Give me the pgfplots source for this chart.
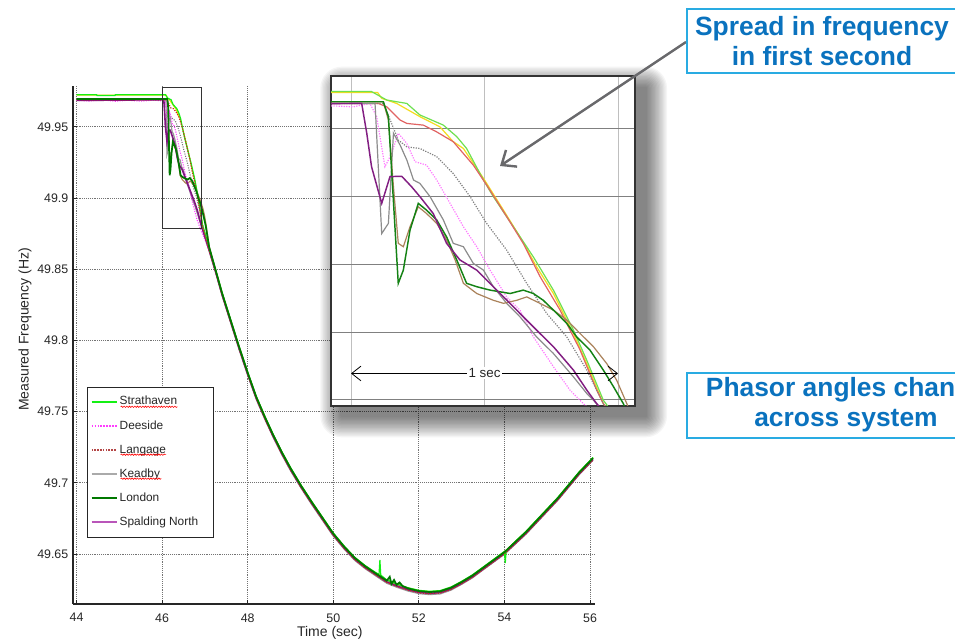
\documentclass[border=0pt]{standalone}
\usepackage{fontspec}
\setmainfont{Liberation Sans}
\usepackage{pgfplots}
\pgfplotsset{compat=1.18}
\usepackage{pgfplotstable}
\usetikzlibrary{arrows.meta,decorations.pathmorphing}

\definecolor{cStrath}{RGB}{20,240,20}
\definecolor{cYel}{RGB}{240,220,0}
\definecolor{cDee}{RGB}{255,60,255}
\definecolor{cLang}{RGB}{200,40,40}
\definecolor{cKead}{RGB}{150,150,150}
\definecolor{cGdot}{RGB}{120,120,120}
\definecolor{cLon}{RGB}{0,120,0}
\definecolor{cBrown}{RGB}{175,130,80}
\definecolor{cSpal}{RGB}{128,20,128}
\definecolor{cSpalL}{RGB}{185,85,185}
\definecolor{cKeadL}{RGB}{170,170,170}
\definecolor{cLangL}{RGB}{180,70,70}
\definecolor{iStrath}{RGB}{110,225,80}
\definecolor{iDee}{RGB}{255,120,255}
\definecolor{iLang}{RGB}{225,100,100}
\definecolor{iKead}{RGB}{140,140,140}
\definecolor{iSpal}{RGB}{130,30,130}
\definecolor{iLon}{RGB}{20,130,20}
\definecolor{iBrown}{RGB}{170,130,90}
\definecolor{iGdot}{RGB}{130,130,130}
\definecolor{iYel}{RGB}{245,220,30}
\definecolor{textblue}{RGB}{10,114,190}
\definecolor{boxcyan}{RGB}{41,171,226}
\definecolor{arrowgray}{RGB}{105,105,108}

% ---------------- data (time s, frequency Hz) ----------------
\pgfplotstableread{
t f
44.00 49.9725
44.47 49.9725
44.48 49.9719
44.90 49.9719
44.91 49.9725
46.077 49.9725
46.134 49.9700
46.209 49.9690
46.258 49.9656
46.346 49.9626
46.396 49.9592
46.433 49.9557
46.496 49.9464
46.533 49.9415
46.608 49.9326
46.683 49.9237
46.758 49.9139
46.833 49.9021
46.883 49.8932
46.945 49.8814
47.10 49.8650
47.25 49.8498
47.40 49.8338
47.60 49.8148
47.80 49.7958
48.00 49.7778
48.20 49.7608
48.40 49.7468
48.60 49.7338
48.80 49.7218
49.00 49.7108
49.25 49.6983
49.50 49.6868
49.75 49.6758
50.00 49.6648
50.25 49.6558
50.50 49.6478
50.75 49.6418
51.00 49.6368
51.07 49.6358
51.09 49.6458
51.11 49.6352
51.25 49.6318
51.50 49.6288
51.75 49.6263
52.00 49.6245
52.25 49.6238
52.50 49.6243
52.75 49.6268
53.00 49.6308
53.25 49.6353
53.50 49.6408
53.75 49.6463
54.00 49.6518
54.02 49.6437
54.04 49.6522
54.25 49.6588
54.50 49.6658
54.75 49.6738
55.00 49.6818
55.25 49.6898
55.50 49.6988
55.75 49.7078
56.07 49.7178
}\tStrath

\pgfplotstableread{
t f
44.00 49.9722
46.100 49.9722
46.115 49.9705
46.171 49.9690
46.258 49.9651
46.333 49.9621
46.383 49.9577
46.421 49.9557
46.496 49.9469
46.571 49.9375
46.633 49.9296
46.695 49.9208
46.758 49.9129
46.833 49.9011
46.883 49.8922
46.945 49.8804
47.10 49.8645
47.25 49.8495
47.40 49.8335
47.60 49.8145
47.80 49.7955
48.00 49.7775
48.20 49.7605
48.40 49.7465
48.60 49.7335
48.80 49.7215
49.00 49.7105
49.25 49.6980
49.50 49.6865
49.75 49.6755
50.00 49.6645
50.25 49.6555
50.50 49.6475
50.75 49.6415
51.00 49.6365
51.25 49.6318
51.50 49.6286
51.75 49.6262
52.00 49.6243
52.25 49.6236
52.50 49.6241
52.75 49.6266
53.00 49.6306
53.25 49.6351
53.50 49.6406
53.75 49.6461
54.00 49.6516
54.25 49.6586
54.50 49.6656
54.75 49.6736
55.00 49.6816
55.25 49.6896
55.50 49.6986
55.75 49.7076
56.07 49.7176
}\tYel

\pgfplotstableread{
t f
44.00 49.9685
44.30 49.9680
44.60 49.9688
44.90 49.9678
45.20 49.9686
45.50 49.9679
45.80 49.9687
46.009 49.9680
46.071 49.9690
46.096 49.9651
46.127 49.9503
46.152 49.9542
46.177 49.9602
46.209 49.9572
46.240 49.9518
46.283 49.9508
46.321 49.9464
46.371 49.9395
46.421 49.9326
46.471 49.9267
46.521 49.9198
46.583 49.9119
46.633 49.9080
46.683 49.9001
46.758 49.8913
46.820 49.8844
46.870 49.8804
47.10 49.8632
47.25 49.8484
47.40 49.8324
47.60 49.8134
47.80 49.7944
48.00 49.7764
48.20 49.7594
48.40 49.7454
48.60 49.7324
48.80 49.7204
49.00 49.7094
49.25 49.6970
49.50 49.6854
49.75 49.6746
50.00 49.6634
50.25 49.6545
50.50 49.6465
50.75 49.6404
51.00 49.6355
51.25 49.6305
51.50 49.6274
51.75 49.6250
52.00 49.6232
52.25 49.6225
52.50 49.6231
52.75 49.6255
53.00 49.6296
53.25 49.6340
53.50 49.6396
53.75 49.6450
54.00 49.6506
54.25 49.6576
54.50 49.6645
54.75 49.6726
55.00 49.6805
55.25 49.6886
55.50 49.6975
55.75 49.7066
56.07 49.7165
}\tDee

\pgfplotstableread{
t f
44.00 49.9690
46.102 49.9690
46.134 49.9680
46.184 49.9641
46.209 49.9631
46.271 49.9626
46.321 49.9606
46.383 49.9577
46.458 49.9508
46.508 49.9449
46.583 49.9356
46.645 49.9277
46.708 49.9179
46.783 49.9080
46.858 49.8962
46.920 49.8844
46.945 49.8804
47.10 49.8631
47.25 49.8481
47.40 49.8321
47.60 49.8131
47.80 49.7941
48.00 49.7761
48.20 49.7591
48.40 49.7451
48.60 49.7321
48.80 49.7201
49.00 49.7091
49.25 49.6966
49.50 49.6851
49.75 49.6741
50.00 49.6631
50.25 49.6541
50.50 49.6461
50.75 49.6401
51.00 49.6351
51.25 49.6301
51.50 49.6271
51.75 49.6246
52.00 49.6228
52.25 49.6221
52.50 49.6226
52.75 49.6251
53.00 49.6291
53.25 49.6336
53.50 49.6391
53.75 49.6446
54.00 49.6501
54.25 49.6571
54.50 49.6641
54.75 49.6721
55.00 49.6801
55.25 49.6881
55.50 49.6971
55.75 49.7061
56.07 49.7161
}\tLang

\pgfplotstableread{
t f
44.00 49.9690
46.121 49.9690
46.152 49.9631
46.177 49.9582
46.209 49.9562
46.258 49.9557
46.321 49.9533
46.383 49.9483
46.446 49.9415
46.508 49.9336
46.583 49.9257
46.658 49.9159
46.733 49.9070
46.808 49.9001
46.883 49.8903
46.945 49.8804
47.10 49.8638
47.25 49.8488
47.40 49.8328
47.60 49.8138
47.80 49.7948
48.00 49.7768
48.20 49.7598
48.40 49.7458
48.60 49.7328
48.80 49.7208
49.00 49.7098
49.25 49.6973
49.50 49.6858
49.75 49.6748
50.00 49.6638
50.25 49.6548
50.50 49.6468
50.75 49.6408
51.00 49.6358
51.25 49.6308
51.50 49.6278
51.75 49.6253
52.00 49.6235
52.25 49.6228
52.50 49.6233
52.75 49.6258
53.00 49.6298
53.25 49.6343
53.50 49.6398
53.75 49.6453
54.00 49.6508
54.25 49.6578
54.50 49.6648
54.75 49.6728
55.00 49.6808
55.25 49.6888
55.50 49.6978
55.75 49.7068
56.07 49.7168
}\tGdot

\pgfplotstableread{
t f
44.00 49.9690
46.090 49.9690
46.115 49.9306
46.140 49.9336
46.159 49.9602
46.184 49.9567
46.209 49.9523
46.234 49.9464
46.258 49.9454
46.296 49.9415
46.346 49.9346
46.383 49.9277
46.421 49.9267
46.458 49.9218
46.496 49.9198
46.533 49.9149
46.583 49.9100
46.633 49.9060
46.695 49.9001
46.758 49.8952
46.833 49.8883
46.883 49.8834
46.920 49.8804
47.10 49.8626
47.25 49.8477
47.40 49.8316
47.60 49.8126
47.80 49.7936
48.00 49.7756
48.20 49.7587
48.40 49.7447
48.60 49.7317
48.80 49.7197
49.00 49.7086
49.25 49.6962
49.50 49.6846
49.75 49.6736
50.00 49.6626
50.25 49.6536
50.50 49.6456
50.75 49.6396
51.00 49.6345
51.25 49.6295
51.50 49.6265
51.75 49.6240
52.00 49.6222
52.25 49.6215
52.50 49.6220
52.75 49.6246
53.00 49.6287
53.25 49.6332
53.50 49.6388
53.75 49.6443
54.00 49.6498
54.25 49.6568
54.50 49.6638
54.75 49.6718
55.00 49.6798
55.25 49.6878
55.50 49.6968
55.75 49.7058
56.07 49.7158
}\tKead

\pgfplotstableread{
t f
44.00 49.9695
46.121 49.9695
46.140 49.9651
46.152 49.9493
46.177 49.9159
46.196 49.9198
46.221 49.9316
46.252 49.9395
46.283 49.9375
46.321 49.9346
46.358 49.9296
46.396 49.9228
46.433 49.9159
46.471 49.9149
46.521 49.9139
46.558 49.9134
46.596 49.9129
46.645 49.9139
46.683 49.9129
46.720 49.9109
46.758 49.9080
46.808 49.9041
46.845 49.9001
46.895 49.8962
46.945 49.8903
46.983 49.8854
47.020 49.8804
47.10 49.8655
47.25 49.8494
47.40 49.8333
47.60 49.8143
47.80 49.7953
48.00 49.7773
48.20 49.7603
48.40 49.7463
48.60 49.7333
48.80 49.7213
49.00 49.7103
49.25 49.6978
49.50 49.6863
49.75 49.6753
50.00 49.6643
50.25 49.6553
50.50 49.6473
50.75 49.6413
51.00 49.6362
51.25 49.6313
51.32 49.6340
51.36 49.6290
51.42 49.6318
51.48 49.6284
51.55 49.6300
51.62 49.6275
51.75 49.6258
52.00 49.6240
52.25 49.6233
52.50 49.6238
52.75 49.6263
53.00 49.6303
53.25 49.6348
53.50 49.6403
53.75 49.6458
54.00 49.6513
54.25 49.6583
54.50 49.6653
54.75 49.6733
55.00 49.6813
55.25 49.6893
55.50 49.6983
55.75 49.7073
56.07 49.7173
}\tLon

\pgfplotstableread{
t f
44.00 49.9695
46.121 49.9695
46.140 49.9641
46.159 49.9444
46.177 49.9277
46.196 49.9267
46.221 49.9326
46.252 49.9385
46.283 49.9365
46.321 49.9336
46.358 49.9287
46.390 49.9228
46.421 49.9159
46.471 49.9129
46.533 49.9109
46.571 49.9100
46.621 49.9109
46.658 49.9119
46.708 49.9100
46.758 49.9080
46.808 49.9051
46.858 49.9011
46.908 49.8972
46.958 49.8922
46.995 49.8873
47.033 49.8804
47.10 49.8662
47.25 49.8494
47.40 49.8334
47.60 49.8144
47.80 49.7954
48.00 49.7774
48.20 49.7604
48.40 49.7464
48.60 49.7334
48.80 49.7214
49.00 49.7104
49.25 49.6979
49.50 49.6864
49.75 49.6754
50.00 49.6644
50.25 49.6554
50.50 49.6474
50.75 49.6414
51.00 49.6364
51.25 49.6314
51.50 49.6284
51.75 49.6259
52.00 49.6241
52.25 49.6234
52.50 49.6239
52.75 49.6264
53.00 49.6304
53.25 49.6349
53.50 49.6404
53.75 49.6459
54.00 49.6514
54.25 49.6584
54.50 49.6654
54.75 49.6734
55.00 49.6814
55.25 49.6894
55.50 49.6984
55.75 49.7074
56.07 49.7174
}\tBrown

\pgfplotstableread{
t f
44.00 49.9685
45.00 49.9687
46.040 49.9690
46.059 49.9602
46.077 49.9503
46.115 49.9395
46.146 49.9474
46.190 49.9475
46.227 49.9444
46.258 49.9415
46.308 49.9365
46.358 49.9277
46.408 49.9228
46.471 49.9198
46.533 49.9149
46.583 49.9110
46.633 49.9070
46.695 49.9021
46.758 49.8972
46.833 49.8903
46.883 49.8844
46.920 49.8804
47.10 49.8634
47.25 49.8484
47.40 49.8324
47.60 49.8134
47.80 49.7944
48.00 49.7764
48.20 49.7594
48.40 49.7454
48.60 49.7324
48.80 49.7204
49.00 49.7094
49.25 49.6969
49.50 49.6854
49.75 49.6744
50.00 49.6634
50.25 49.6544
50.50 49.6464
50.75 49.6404
51.00 49.6354
51.25 49.6304
51.50 49.6274
51.75 49.6249
52.00 49.6231
52.25 49.6224
52.50 49.6229
52.75 49.6254
53.00 49.6294
53.25 49.6339
53.50 49.6394
53.75 49.6449
54.00 49.6504
54.25 49.6574
54.50 49.6644
54.75 49.6724
55.00 49.6804
55.25 49.6884
55.50 49.6974
55.75 49.7064
56.07 49.7164
}\tSpal

\begin{document}
\begin{tikzpicture}
\useasboundingbox (0,0) rectangle (716.25pt,480pt);
\clip (0,0) rectangle (716.25pt,480pt);

% ---------------- main chart ----------------
\begin{axis}[
  at={(54.75pt,27pt)}, anchor=south west,
  scale only axis, width=391.5pt, height=388.5pt,
  xmin=43.918, xmax=56.117, ymin=49.6149, ymax=49.9786,
  axis lines=left, axis line style={-, black!85, line width=0.8pt},
  xtick={44,46,48,50,52,54,56},
  ytick={49.65,49.7,49.75,49.8,49.85,49.9,49.95},
  tick align=inside, major tick length=3pt,
  tick style={black!85, line width=0.6pt},
  grid=major, grid style={densely dotted, black!55, line width=0.6pt},
  scaled ticks=false,
  /pgf/number format/assume math mode=true,
  yticklabel style={/pgf/number format/fixed, /pgf/number format/precision=2},
  ticklabel style={font=\fontsize{9.3}{11}\selectfont, text=black!85},
  xticklabel style={yshift=-3.5pt},
  xlabel={Time (sec)}, ylabel={Measured Frequency (Hz)},
  label style={font=\fontsize{10.5}{12}\selectfont, text=black!85},
  xlabel style={at={(axis description cs:0.492,-0.056)}, anchor=center},
  ylabel style={at={(axis description cs:-0.092,0.53)}, anchor=center},
  legend style={at={(axis description cs:0.0268,0.419)}, anchor=north west,
    draw=black!85, fill=white, font=\fontsize{8.9}{10}\selectfont, text=black!85,
    inner xsep=2.5pt, inner ysep=5pt, row sep=6.4pt,
    nodes={inner sep=1.5pt, text height=6.8pt, text depth=1.9pt}},
  legend cell align=left,
  legend image code/.code={\draw[#1] (0pt,0pt) -- (18.75pt,0pt);},
]
\addlegendimage{color=cStrath, line width=1.3pt}
\addlegendentry{Strathaven}
\addlegendimage{color=cDee, densely dotted, line width=1.2pt}
\addlegendentry{Deeside}
\addlegendimage{color=cLangL, densely dotted, line width=1.1pt}
\addlegendentry{Langage}
\addlegendimage{color=cKeadL, line width=1.2pt}
\addlegendentry{Keadby}
\addlegendimage{color=cLon, line width=1.6pt}
\addlegendentry{London}
\addlegendimage{color=cSpalL, line width=1.3pt}
\addlegendentry{\makebox[66pt][l]{Spalding North}}

\addplot[forget plot, color=cYel, line width=0.8pt] table {\tYel};
\addplot[forget plot, color=cGdot, densely dotted, line width=0.8pt] table {\tGdot};
\addplot[forget plot, color=cKead, line width=0.9pt] table {\tKead};
\addplot[forget plot, color=cBrown, line width=0.8pt] table {\tBrown};
\addplot[forget plot, color=cDee, densely dotted, line width=0.8pt] table {\tDee};
\addplot[forget plot, color=cSpal, line width=1.2pt] table {\tSpal};
\addplot[forget plot, color=cStrath, line width=0.9pt] table {\tStrath};
\addplot[forget plot, color=cLang, densely dotted, line width=0.9pt] table {\tLang};
\addplot[forget plot, color=cLon, line width=1.3pt] table {\tLon};

\draw[black!80, line width=0.7pt] (axis cs:46.0,49.9779) rectangle (axis cs:46.91,49.8789);
\end{axis}

% red spell-check squiggles under three legend names
\begin{scope}[red, line width=0.45pt, decoration={snake, amplitude=0.5pt, segment length=2pt}]
\draw[decorate] (90.5pt,174.9pt) -- (133.2pt,174.9pt);
\draw[decorate] (90.5pt,139.0pt) -- (124.5pt,139.0pt);
\draw[decorate] (90.5pt,121.0pt) -- (121.0pt,121.0pt);
\end{scope}

% ---------------- shadow of the inset ----------------
\foreach \i in {1,...,16} {
  \fill[black, opacity=0.04, rounded corners=\i pt]
    ({256.25pt-\i*1pt},{168pt-\i*1pt}) rectangle ({484.25pt+\i*1pt},{414pt+\i*1pt});
}

% ---------------- inset (first second) ----------------
\begin{axis}[
  at={(248.25pt,175.5pt)}, anchor=south west,
  scale only axis, width=228pt, height=247.5pt,
  xmin=45.9251, xmax=47.0637, ymin=49.8797, ymax=49.9771,
  axis background/.style={fill=white},
  axis line style={black!80, line width=0.9pt},
  xtick={46,46.5,47}, ytick={49.8817,49.9014,49.9215,49.9415,49.9616},
  xticklabels={}, yticklabels={}, major tick length=0pt,
  xmajorgrids, ymajorgrids,
  x grid style={black!25, line width=0.7pt},
  y grid style={black!50, line width=0.6pt},
  scaled ticks=false,
]
\addplot[color=iYel, line width=0.9pt] table {\tYel};
\addplot[color=iStrath, line width=0.9pt] table {\tStrath};
\addplot[color=iLang, line width=0.9pt] table {\tLang};
\addplot[color=iGdot, densely dotted, line width=0.9pt] table {\tGdot};
\addplot[color=iDee, densely dotted, line width=0.9pt] table {\tDee};
\addplot[color=iKead, line width=0.9pt] table {\tKead};
\addplot[color=iBrown, line width=0.9pt] table {\tBrown};
\addplot[color=iLon, line width=1.1pt] table {\tLon};
\addplot[color=iSpal, line width=1.1pt] table {\tSpal};

\draw[{Straight Barb[length=7pt,width=11pt]}-{Straight Barb[length=7pt,width=11pt]}, black, line width=0.6pt]
  (axis cs:46,49.8893) -- (axis cs:47,49.8893);
\node[fill=white, inner sep=1pt, font=\fontsize{10}{12}\selectfont, text=black!85]
  at (axis cs:46.5,49.8893) {1 sec};
\end{axis}

% ---------------- call-outs ----------------
\draw[-{Straight Barb[length=9pt,width=15pt]}, color=arrowgray, line width=1.8pt]
  (514.5pt,448.5pt) -- (375pt,355.5pt);

\draw[boxcyan, line width=1.5pt] (515.25pt,425.25pt) rectangle (717.75pt,473.25pt);
\node[text=textblue, font=\fontsize{19.8}{22.5}\selectfont\bfseries, align=center]
  at (616.5pt,449.25pt) {Spread in frequency\\in first second};

\draw[boxcyan, line width=1.5pt] (515.25pt,151.5pt) rectangle (753.75pt,200.25pt);
\node[text=textblue, font=\fontsize{19.8}{22.5}\selectfont\bfseries, align=center]
  at (634.5pt,176.25pt) {Phasor angles change\\across system};
\end{tikzpicture}
\end{document}
